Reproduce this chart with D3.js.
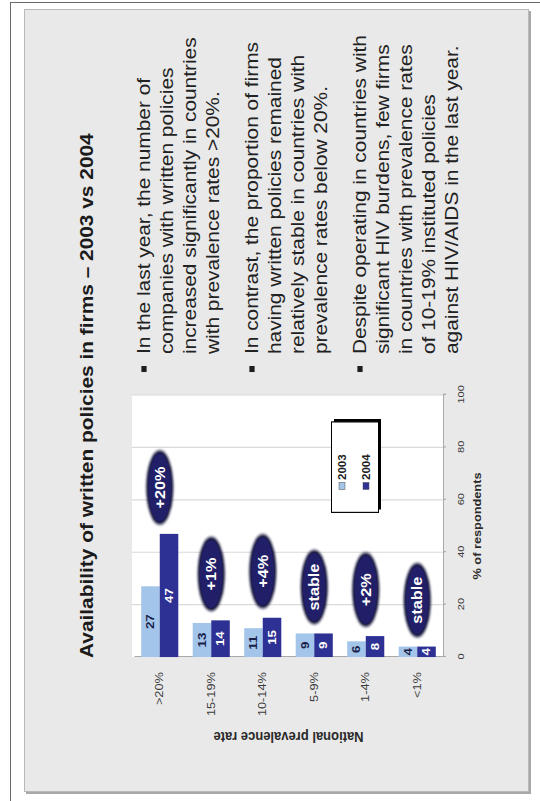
<!DOCTYPE html>
<html>
<head>
<meta charset="utf-8">
<script src="https://cdn.jsdelivr.net/npm/d3@7"></script>
<style>
  html, body { margin: 0; padding: 0; background: #fff; }
  svg { display: block; }
</style>
</head>
<body>
<script>
// ---- data ----
const categories = [">20%", "15-19%", "10-14%", "5-9%", "1-4%", "<1%"];
const years = ["2003", "2004"];
const values2003 = [27, 13, 11, 9, 6, 4];
const values2004 = [47, 14, 15, 9, 8, 4];
const changeLabels = ["+20%", "+1%", "+4%", "stable", "+2%", "stable"];
const valueTicks = [0, 20, 40, 60, 80, 100];

const titleText = "Availability of written policies in firms \u2013 2003 vs 2004";
const bullets = [
  ["In the last year, the number of",
   "companies with written policies",
   "increased significantly in countries",
   "with prevalence rates >20%."],
  ["In contrast, the proportion of firms",
   "having written policies remained",
   "relatively stable in countries with",
   "prevalence rates below 20%."],
  ["Despite operating in countries with",
   "significant HIV burdens, few firms",
   "in countries with prevalence rates",
   "of 10-19% instituted policies",
   "against HIV/AIDS in the last year."]
];

// ---- page ----
const W = 540, H = 801;
const K = 1.16;              // the slide is stretched along its width
const FONT = "'Liberation Sans', Arial, Helvetica, sans-serif";
const c2003 = "#a3c5ea", c2004 = "#2e3194", ovalFill = "#211f68";

const svg = d3.select("body").append("svg")
  .attr("width", W).attr("height", H);

const defs = svg.append("defs");
defs.append("filter").attr("id", "soft")
  .attr("x", "-20%").attr("y", "-20%").attr("width", "140%").attr("height", "140%")
  .append("feGaussianBlur").attr("stdDeviation", 1.3);

// page frame
svg.append("rect")
  .attr("x", 10.5).attr("y", 2.5).attr("width", 600).attr("height", 900)
  .attr("fill", "none").attr("stroke", "#6a6a6a").attr("stroke-width", 1);

// slide panel with its drop shadow
svg.append("rect")
  .attr("x", 26).attr("y", 11).attr("width", 505).attr("height", 783)
  .attr("fill", "#a8a8a8");
svg.append("rect")
  .attr("x", 24.5).attr("y", 9.5).attr("width", 504).attr("height", 782)
  .attr("fill", "#e9e9e9").attr("stroke", "#b9b9b9").attr("stroke-width", 1);

// slide content: landscape layout turned a quarter turn
const slide = svg.append("g")
  .attr("transform", `translate(0,${H}) rotate(-90) scale(${K},1)`)
  .style("font-family", FONT);

// title
slide.append("text")
  .attr("x", 123.3).attr("y", 93)
  .attr("font-size", 18).attr("font-weight", "bold")
  .attr("fill", "#1b1b1b")
  .text(titleText);

// ---- chart ----
const x = d3.scaleLinear().domain([0, 100]).range([124.1, 350]);
const y = d3.scaleBand().domain(categories).range([134, 443])
  .paddingInner(0.28).paddingOuter(0.14);
const ys = d3.scaleBand().domain(years).range([0, y.bandwidth()]);

// plot area
slide.append("rect")
  .attr("x", x(0)).attr("y", 132).attr("width", x(100) - x(0)).attr("height", 443 - 132)
  .attr("fill", "#ffffff");

// gridlines
slide.append("g").selectAll("line")
  .data(valueTicks.filter(t => t > 0))
  .join("line")
  .attr("x1", d => x(d)).attr("x2", d => x(d))
  .attr("y1", 132).attr("y2", 443)
  .attr("stroke", "#dadada").attr("stroke-width", 1);

// value axis
const xAxis = slide.append("g")
  .attr("transform", "translate(0,443)")
  .call(d3.axisBottom(x).tickValues(valueTicks).tickSize(3).tickPadding(11));
xAxis.select(".domain").attr("stroke", "#a9a9a9");
xAxis.selectAll(".tick line").attr("stroke", "#a9a9a9");
xAxis.selectAll(".tick text")
  .attr("font-family", FONT).attr("font-size", 9.5).attr("fill", "#3a3a3a");

// category axis
const yAxis = slide.append("g")
  .attr("transform", `translate(${x(0)},0)`)
  .call(d3.axisLeft(y).tickSize(0).tickPadding(13));
yAxis.select(".domain").attr("stroke", "#a9a9a9");
yAxis.selectAll(".tick text")
  .attr("font-family", FONT).attr("font-size", 11).attr("fill", "#3a3a3a");

// axis titles
slide.append("text")
  .attr("x", (x(0) + x(100)) / 2).attr("y", 481)
  .attr("text-anchor", "middle")
  .attr("font-size", 11).attr("font-weight", "bold").attr("fill", "#2a2a2a")
  .text("% of respondents");
slide.append("text")
  .attr("transform", `translate(55,${(134 + 443) / 2}) rotate(-90)`)
  .attr("text-anchor", "middle").attr("dominant-baseline", "central")
  .attr("font-size", 13).attr("font-weight", "bold").attr("fill", "#2a2a2a")
  .text("National prevalence rate");

// bars
const rows = categories.map((c, i) => ({
  cat: c, v2003: values2003[i], v2004: values2004[i], change: changeLabels[i]
}));
const series = [
  { year: "2003", key: "v2003", fill: c2003, label: "#1a1f4a" },
  { year: "2004", key: "v2004", fill: c2004, label: "#ffffff" }
];

series.forEach(s => {
  const g = slide.append("g");
  g.selectAll("rect").data(rows).join("rect")
    .attr("x", x(0))
    .attr("y", d => y(d.cat) + ys(s.year))
    .attr("width", d => x(d[s.key]) - x(0))
    .attr("height", ys.bandwidth())
    .attr("fill", s.fill);
  g.selectAll("text").data(rows).join("text")
    .attr("x", d => (x(0) + x(d[s.key])) / 2)
    .attr("y", d => y(d.cat) + ys(s.year) + ys.bandwidth() / 2)
    .attr("text-anchor", "middle").attr("dominant-baseline", "central")
    .attr("font-size", 11.5).attr("font-weight", "bold")
    .attr("fill", s.label)
    .text(d => d[s.key]);
});

// change callouts
const ovals = slide.append("g").selectAll("g").data(rows).join("g")
  .attr("transform", d =>
    `translate(${x(Math.max(d.v2003, d.v2004)) + 40},${y(d.cat) + y.bandwidth() / 2})`);
ovals.append("ellipse")
  .attr("rx", 32).attr("ry", 13.5)
  .attr("fill", "#0c0b36").attr("filter", "url(#soft)");
ovals.append("ellipse")
  .attr("rx", 29.5).attr("ry", 11.5)
  .attr("fill", ovalFill);
ovals.append("text")
  .attr("text-anchor", "middle").attr("dominant-baseline", "central")
  .attr("font-size", 14).attr("font-weight", "bold").attr("fill", "#ffffff")
  .text(d => d.change);

// legend
const lg = slide.append("g").attr("transform", "translate(248.3,331)");
lg.append("rect").attr("x", 3).attr("y", 3).attr("width", 78).attr("height", 47)
  .attr("fill", "#000");
lg.append("rect").attr("x", 0.5).attr("y", 0.5).attr("width", 78).attr("height", 47)
  .attr("fill", "#fff").attr("stroke", "#000").attr("stroke-width", 1);
const li = lg.selectAll("g.item").data(series).join("g")
  .attr("class", "item")
  .attr("transform", (d, i) => `translate(0,${11 + i * 24})`);
li.append("rect")
  .attr("x", 20.3).attr("y", -3).attr("width", 6).attr("height", 6)
  .attr("fill", d => d.fill).attr("stroke", "#555").attr("stroke-width", 0.5);
li.append("text")
  .attr("x", 28.4).attr("y", 0)
  .attr("dominant-baseline", "central")
  .attr("font-size", 10).attr("font-weight", "bold").attr("fill", "#222")
  .text(d => d.year);

// bullet points
const lineStep = 22.8, paraGap = 16.8;
let v = 144;
const textBlock = slide.append("g");
bullets.forEach(par => {
  textBlock.append("rect")
    .attr("x", 372.4 - 2.6).attr("y", v - 2.6).attr("width", 5.2).attr("height", 5.2)
    .attr("fill", "#1e1e1e");
  par.forEach(line => {
    textBlock.append("text")
      .attr("x", 385.3).attr("y", v + 6.5)
      .attr("font-size", 18).attr("fill", "#222")
      .text(line);
    v += lineStep;
  });
  v += paraGap;
});
</script>
</body>
</html>
